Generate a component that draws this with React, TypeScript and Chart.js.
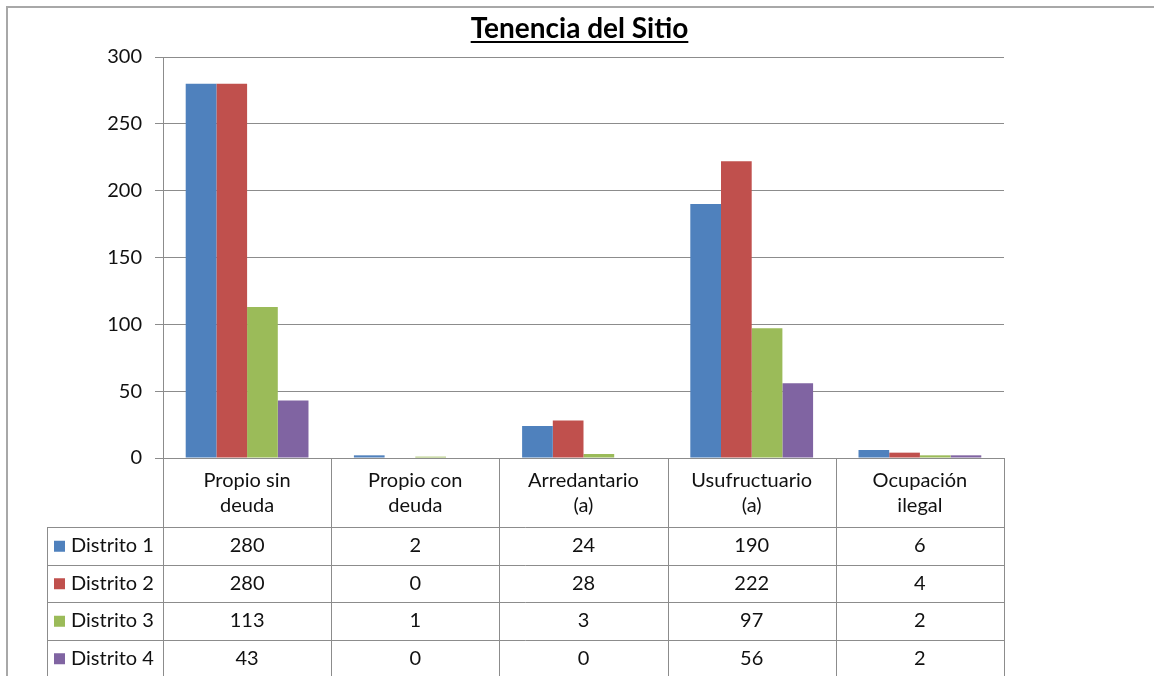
import React, { useEffect, useRef } from "react";
import { Chart, registerables } from "chart.js";

Chart.register(...registerables);

const TITLE = "Tenencia del Sitio";
const categories: string[][] = [
  ["Propio sin", "deuda"],
  ["Propio con", "deuda"],
  ["Arredantario", "(a)"],
  ["Usufructuario", "(a)"],
  ["Ocupación", "ilegal"],
];
const seriesNames = ["Distrito 1", "Distrito 2", "Distrito 3", "Distrito 4"];
const distrito1 = [280, 2, 24, 190, 6];
const distrito2 = [280, 0, 28, 222, 4];
const distrito3 = [113, 1, 3, 97, 2];
const distrito4 = [43, 0, 0, 56, 2];
const seriesValues = [distrito1, distrito2, distrito3, distrito4];
const seriesColors = ["#4F81BD", "#C0504D", "#9BBB59", "#8064A2"];
const yMin = 0;
const yMax = 300;
const yStep = 50;

const FONT = "Lato, 'Open Sans', sans-serif";
const TEXT = "#111111";

const tablePlugin = {
  id: "tablePlugin",
  beforeDraw(chart: any) {
    const ctx = chart.ctx;
    ctx.save();
    ctx.fillStyle = "#ffffff";
    ctx.fillRect(0, 0, chart.width, chart.height);
    ctx.strokeStyle = "#a8a8a8";
    ctx.lineWidth = 2;
    ctx.beginPath();
    ctx.moveTo(7, chart.height + 5);
    ctx.lineTo(7, 7);
    ctx.lineTo(chart.width + 5, 7);
    ctx.stroke();
    ctx.restore();
  },
  afterDraw(chart: any) {
    const ctx = chart.ctx;
    const area = chart.chartArea;
    const x = chart.scales.x;
    const colW = x.getPixelForValue(1) - x.getPixelForValue(0);
    const left = area.left;
    const right = area.right;
    const top = area.bottom;
    const headerBottom = top + 69;
    const rowH = 37.5;
    const legendLeft = 47;
    const nRows = seriesNames.length;
    const bottom = headerBottom + rowH * nRows;

    ctx.save();
    // title
    ctx.fillStyle = "#000";
    ctx.font = `bold 28px ${FONT}`;
    ctx.textAlign = "center";
    ctx.textBaseline = "alphabetic";
    const cx = (area.left + area.right) / 2 - 4;
    ctx.fillText(TITLE, cx, 38);
    const tw = ctx.measureText(TITLE).width;
    ctx.fillRect(cx - tw / 2, 41, tw, 2);

    // table lines
    ctx.strokeStyle = "#8c8c8c";
    ctx.lineWidth = 1;
    ctx.beginPath();
    for (let i = 0; i <= categories.length; i++) {
      const px = Math.round(left + i * colW) + 0.5;
      ctx.moveTo(px, top);
      ctx.lineTo(px, bottom);
    }
    ctx.moveTo(legendLeft + 0.5, headerBottom);
    ctx.lineTo(legendLeft + 0.5, bottom);
    for (let r = 0; r <= nRows; r++) {
      const py = Math.round(headerBottom + r * rowH) + 0.5;
      ctx.moveTo(legendLeft, py);
      ctx.lineTo(right + 0.5, py);
    }
    ctx.stroke();

    // header text
    ctx.fillStyle = TEXT;
    ctx.font = `20px ${FONT}`;
    ctx.textAlign = "center";
    ctx.textBaseline = "middle";
    categories.forEach((lines, i) => {
      const px = x.getPixelForValue(i);
      lines.forEach((ln, j) => {
        ctx.fillText(ln, px, top + 23 + j * 25);
      });
    });

    // rows
    seriesNames.forEach((name, r) => {
      const cy = headerBottom + r * rowH + rowH / 2;
      ctx.fillStyle = seriesColors[r];
      ctx.fillRect(54, cy - 5, 11, 11);
      ctx.fillStyle = TEXT;
      ctx.textAlign = "left";
      ctx.fillText(name, 71, cy);
      ctx.textAlign = "center";
      seriesValues[r].forEach((v, i) => {
        ctx.fillText(String(v), x.getPixelForValue(i), cy);
      });
    });
    ctx.restore();
  },
};

export default function App() {
  const ref = useRef<HTMLCanvasElement | null>(null);
  useEffect(() => {
    if (!ref.current) return;
    const chart = new Chart(ref.current, {
      type: "bar",
      data: {
        labels: categories.map((c) => c.join(" ")),
        datasets: seriesNames.map((n, i) => ({
          label: n,
          data: seriesValues[i],
          backgroundColor: seriesColors[i],
          borderWidth: 0,
          categoryPercentage: 0.73,
          barPercentage: 1,
        })),
      },
      options: {
        animation: false,
        responsive: false,
        maintainAspectRatio: false,
        layout: { padding: { left: 0, top: 57, right: 150, bottom: 218 } },
        plugins: {
          legend: { display: false },
          title: { display: false },
          tooltip: { enabled: false },
        },
        scales: {
          x: {
            display: false,
            grid: { display: false },
          },
          y: {
            min: yMin,
            max: yMax,
            afterFit: (s: any) => {
              s.width = 163;
            },
            ticks: {
              stepSize: yStep,
              padding: 13,
              color: TEXT,
              font: { family: FONT, size: 20 },
            },
            grid: {
              color: "#8c8c8c",
              tickLength: 8,
              drawTicks: true,
            },
            border: { color: "#8c8c8c" },
          },
        },
      },
      plugins: [tablePlugin],
    });
    return () => chart.destroy();
  }, []);
  return (
    <div style={{ position: "fixed", left: 0, top: 0, width: 1154, height: 676, background: "#fff" }}>
      <canvas ref={ref} width={1154} height={676} style={{ display: "block" }} />
    </div>
  );
}
